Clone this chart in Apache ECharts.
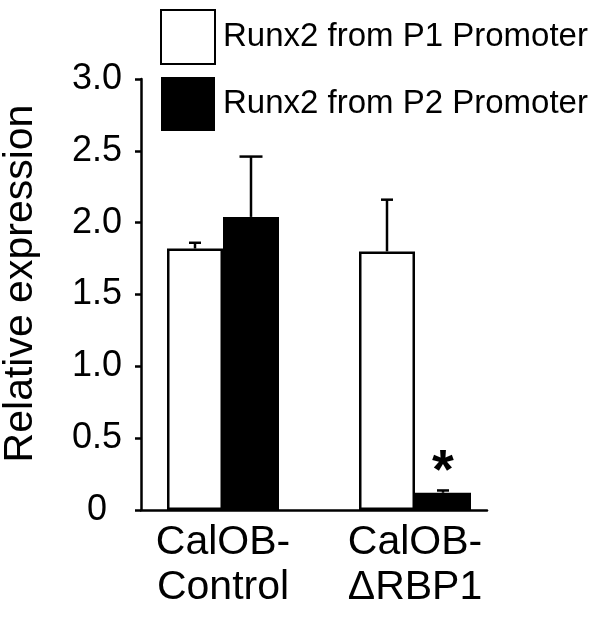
<!DOCTYPE html>
<html><head><meta charset="utf-8">
<script src="https://cdn.jsdelivr.net/npm/echarts@6/dist/echarts.min.js"></script>
<style>html,body{margin:0;padding:0;background:#fff}#c{width:600px;height:617px}</style>
</head><body><div id="c"></div>
<script>
// ---- data ----
const categories = ['CalOB-\nControl', 'CalOB-\nΔRBP1'];
const seriesNames = ['Runx2 from P1 Promoter', 'Runx2 from P2 Promoter'];
const p1Values = [1.82, 1.80];
const p2Values = [2.04, 0.12];
const p1Errors = [0.04, 0.36];
const p2Errors = [0.42, 0.016];
const p2Marks = ['', '*'];
const yTickLabels = ['0', '0.5', '1.0', '1.5', '2.0', '2.5', '3.0'];

// ---- style ----
const FONT = '"Liberation Sans", Arial, sans-serif';
const BAR_W = 56;
const capWidths = [[12, 12], [23, 12]];

function makeErrorRender(sIdx, marks) {
  return function (params, api) {
    const ci = api.value(0), v = api.value(1), e = api.value(2);
    const base = api.coord([ci, v]);
    const top = api.coord([ci, v + e]);
    const x = base[0] + (sIdx === 0 ? -1 : 1) * BAR_W / 2;
    const cw = capWidths[sIdx][params.dataIndex] / 2;
    const ls = { stroke: '#000', lineWidth: 2.5 };
    const children = [
      { type: 'line', shape: { x1: x, y1: base[1], x2: x, y2: top[1] }, style: ls },
      { type: 'line', shape: { x1: x - cw, y1: top[1], x2: x + cw, y2: top[1] }, style: ls }
    ];
    const m = marks ? marks[params.dataIndex] : '';
    if (m) {
      children.push({ type: 'text', style: { text: m, x: x, y: top[1] - 18, align: 'center', verticalAlign: 'middle',
        font: 'bold 56px ' + FONT, fill: '#000' } });
    }
    return { type: 'group', children: children };
  };
}

const chart = echarts.init(document.getElementById('c'), null, { renderer: 'canvas' });
chart.setOption({
  animation: false,
  backgroundColor: '#fff',
  legend: {
    data: seriesNames, orient: 'vertical', left: 160, top: 9, padding: 0,
    itemWidth: 54, itemHeight: 54, itemGap: 12, icon: 'rect',
    textStyle: { fontFamily: FONT, fontSize: 33, color: '#000', padding: [0, 0, 0, 3] },
    selectedMode: false
  },
  grid: [
    { left: 127, right: 89, top: 79, bottom: 107, outerBoundsMode: 'none', containLabel: false },
    { left: 141, right: 113, top: 79, bottom: 107, outerBoundsMode: 'none', containLabel: false }
  ],
  xAxis: [
    { type: 'category', gridIndex: 0, data: categories,
      axisLine: { show: false }, axisTick: { show: false },
      axisLabel: { fontFamily: FONT, fontSize: 41, lineHeight: 45, color: '#000', margin: 10 } },
    { type: 'value', gridIndex: 1, min: 0, max: 1,
      axisLine: { show: true, onZero: false, lineStyle: { color: '#000', width: 2.5 } },
      axisTick: { show: false }, axisLabel: { show: false }, splitLine: { show: false } }
  ],
  yAxis: [
    { type: 'value', gridIndex: 0, min: 0, max: 3, interval: 0.5, show: false, splitLine: { show: false } },
    { type: 'value', gridIndex: 1, min: 0, max: 3, interval: 0.5,
      name: 'Relative expression', nameLocation: 'middle', nameGap: 100,
      nameTextStyle: { fontFamily: FONT, fontSize: 41, color: '#000', padding: [0, 0, 0, 22] },
      axisLine: { show: true, lineStyle: { color: '#000', width: 2.5 } },
      axisTick: { show: true, length: 6, lineStyle: { color: '#000', width: 2.5 } },
      axisLabel: { fontFamily: FONT, fontSize: 36, color: '#000', margin: 44, align: 'center',
        formatter: function (v) { return yTickLabels[Math.round(v * 2)]; } },
      splitLine: { show: false } }
  ],
  series: [
    { name: seriesNames[0], type: 'bar', xAxisIndex: 0, yAxisIndex: 0, data: p1Values,
      barWidth: BAR_W, barGap: '0%',
      itemStyle: { color: '#fff', borderColor: '#000', borderWidth: 2.5 } },
    { name: seriesNames[1], type: 'bar', xAxisIndex: 0, yAxisIndex: 0, data: p2Values,
      barWidth: BAR_W, barGap: '0%',
      itemStyle: { color: '#000', borderColor: '#000', borderWidth: 0 } },
    { type: 'custom', xAxisIndex: 0, yAxisIndex: 0, z: 5,
      data: p1Values.map(function (v, i) { return [i, v, p1Errors[i]]; }),
      encode: { x: 0, y: 1 }, renderItem: makeErrorRender(0, null) },
    { type: 'custom', xAxisIndex: 0, yAxisIndex: 0, z: 5,
      data: p2Values.map(function (v, i) { return [i, v, p2Errors[i]]; }),
      encode: { x: 0, y: 1 }, renderItem: makeErrorRender(1, p2Marks) }
  ]
});
</script></body></html>
